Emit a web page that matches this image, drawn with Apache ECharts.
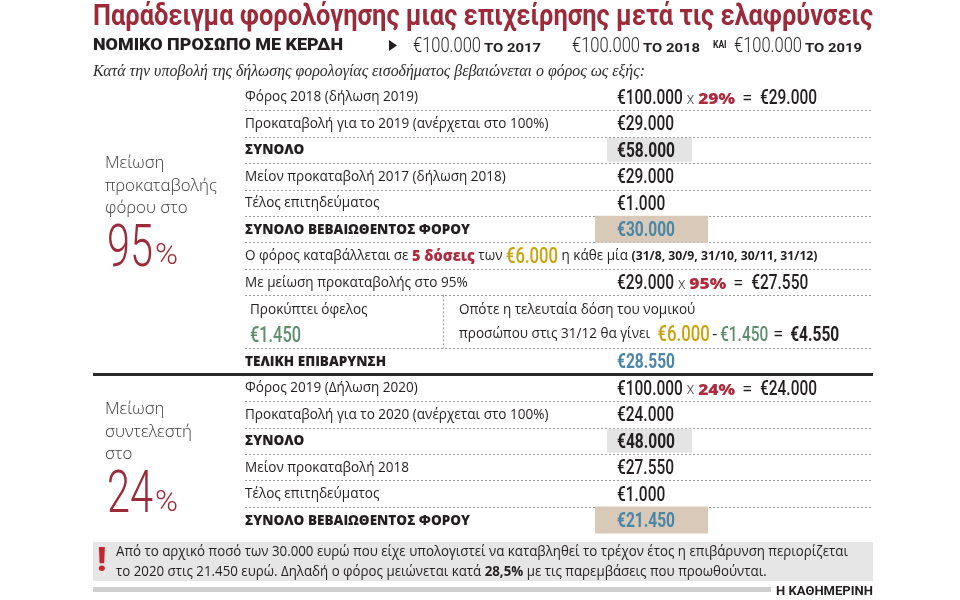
<!DOCTYPE html>
<html>
<head>
<meta charset="utf-8">
<script src="https://cdn.jsdelivr.net/npm/echarts@6/dist/echarts.min.js"></script>
<style>html,body{margin:0;padding:0;background:#fff;}#chart{width:960px;height:600px;}</style>
</head>
<body>
<div id="chart"></div>
<script>
// ================= DATA =================
const titleText = 'Παράδειγμα φορολόγησης μιας επιχείρησης μετά τις ελαφρύνσεις';
const headerLabel = 'ΝΟΜΙΚΟ ΠΡΟΣΩΠΟ ΜΕ ΚΕΡΔΗ';
const headerYears = [2017, 2018, 2019];
const headerProfits = [100000, 100000, 100000];
const introText = 'Κατά την υποβολή της δήλωσης φορολογίας εισοδήματος βεβαιώνεται ο φόρος ως εξής:';

const rowSlots = [0, 1, 2, 3, 4, 5, 6, 7, 8, 10, 11, 12, 13, 14, 15, 16];
const rowLabels = [
  'Φόρος 2018 (δήλωση 2019)',
  'Προκαταβολή για το 2019 (ανέρχεται στο 100%)',
  'ΣΥΝΟΛΟ',
  'Μείον προκαταβολή 2017 (δήλωση 2018)',
  'Τέλος επιτηδεύματος',
  'ΣΥΝΟΛΟ ΒΕΒΑΙΩΘΕΝΤΟΣ ΦΟΡΟΥ',
  'Ο φόρος καταβάλλεται σε',
  'Με μείωση προκαταβολής στο 95%',
  'Προκύπτει όφελος',
  'ΤΕΛΙΚΗ ΕΠΙΒΑΡΥΝΣΗ',
  'Φόρος 2019 (Δήλωση 2020)',
  'Προκαταβολή για το 2020 (ανέρχεται στο 100%)',
  'ΣΥΝΟΛΟ',
  'Μείον προκαταβολή 2018',
  'Τέλος επιτηδεύματος',
  'ΣΥΝΟΛΟ ΒΕΒΑΙΩΘΕΝΤΟΣ ΦΟΡΟΥ'
];
const taxRates = [29, 24];
const section1Amounts = [29000, 29000, 58000, 29000, 1000, 30000];
const section2Amounts = [24000, 24000, 48000, 27550, 1000, 21450];
const installmentCount = 5;
const installmentAmount = 6000;
const installmentDates = ['31/8', '30/9', '31/10', '30/11', '31/12'];
const advanceReductionPct = 95;
const reducedAdvance = 27550;
const benefit = 1450;
const lastInstallment = 4550;
const finalBurden = 28550;
const splitTexts = ['Οπότε η τελευταία δόση του νομικού', 'προσώπου στις 31/12 θα γίνει'];
const separatorSlots = [0.5, 1.5, 2.5, 3.5, 4.5, 5.5, 6.5, 7.5, 9.5, 11.5, 12.5, 13.5, 14.5, 15.5];
const ruleSlots = [10.5];
const sideLabels = [['Μείωση', 'προκαταβολής', 'φόρου στο'], ['Μείωση', 'συντελεστή', 'στο']];
const sidePcts = [advanceReductionPct, taxRates[1]];
const sideSlots = [2.53, 11.84];
const noteTotals = [section1Amounts[5], section2Amounts[5]];
const noteYear = 2020;
const reductionPct = '28,5%';
const sourceText = 'Η ΚΑΘΗΜΕΡΙΝΗ';

// ================= STYLE / HELPERS =================
const INK = '#231f20', RED = '#b02a3e', DARKRED = '#9b2a3a', YEL = '#c9a20c',
      GRN = '#5d8e6e', BLUE = '#4a86a6', GREYBOX = '#e4e4e4', TAN = '#d8c9b9';
const F = {
  lbl:   { family: '"Open Sans", "Noto Sans", sans-serif', k: 0.39 },
  num:   { family: 'Roboto, "Liberation Sans", sans-serif', k: 0.2 },
  serif: { family: '"Liberation Serif", "DejaVu Serif", serif', k: 0.34 }
};
const mctx = document.createElement('canvas').getContext('2d');
function fstr(r) { return (r.italic ? 'italic ' : 'normal ') + (r.w || 'normal') + ' ' + r.s + 'px ' + F[r.f].family; }
function mw(r) { mctx.font = fstr(r); return mctx.measureText(r.t).width; }
function fit(t, f, s, w, target, italic) { return target / mw({ t, f, s, w, italic }); }
function R(t, f, s, o) { return Object.assign({ t: String(t), f, s }, o || {}); }
function eur(n) { return '€' + String(n).replace(/\B(?=(\d{3})+(?!\d))/g, '.'); }
function plain(n) { return String(n).replace(/\B(?=(\d{3})+(?!\d))/g, '.'); }
function runsEls(x, base, runs) {
  let cx = x; const out = [];
  runs.forEach(r => {
    cx += (r.gl || 0);
    const sx = r.sx || 1;
    out.push({
      type: 'text', x: cx, y: base - F[r.f].k * r.s + (r.dy || 0), scaleX: sx, silent: true,
      style: {
        text: r.t, fontSize: r.s, fontFamily: F[r.f].family, fontWeight: r.w || 'normal',
        fontStyle: r.italic ? 'italic' : 'normal', fill: r.c || INK, align: 'left', verticalAlign: 'middle'
      }
    });
    cx += mw(r) * sx;
  });
  return out;
}

const LS = 14.5, LBS = 14, NS = 20;
const LBL_SX = fit(rowLabels[0], 'lbl', LS, 'normal', 173);
const LBLB_SX = fit(rowLabels[5], 'lbl', LBS, '800', 225);
const NUM_SX = fit('€29.000', 'num', NS, '500', 57);
const NUMB_SX = fit('€58.000', 'num', NS, 'bold', 58);
const PCT_SX = fit('29%', 'lbl', 16, '800', 37);
const YEL_SX = fit('€6.000', 'num', 22, '500', 52);

const lbl = (t, o) => R(t, 'lbl', LS, Object.assign({ sx: LBL_SX }, o || {}));
const lblB = (t, o) => R(t, 'lbl', LBS, Object.assign({ w: '800', sx: LBLB_SX }, o || {}));
const num = (v, o) => R(eur(v), 'num', NS, Object.assign({ w: '500', sx: NUM_SX }, o || {}));
const numB = (v, o) => R(eur(v), 'num', NS, Object.assign({ w: 'bold', sx: NUMB_SX }, o || {}));
function calc(a, p, r) {
  return [num(a), R('X', 'num', 12, { w: '300', gl: 4 }), R(p + '%', 'lbl', 16, { w: '800', c: RED, gl: 4, sx: PCT_SX, dy: 2.5 }),
          R('=', 'num', 18, { gl: 7 }), num(r, { gl: 8 })];
}

const S1 = section1Amounts, S2 = section2Amounts;
const datesText = '(' + installmentDates.join(', ') + ')';
const installmentRuns = [
  lbl(rowLabels[6] + ' '),
  R(installmentCount + ' δόσεις', 'lbl', 15, { w: '800', c: RED, sx: LBLB_SX, dy: 0.5 }),
  lbl(' των '),
  R(eur(installmentAmount), 'num', 22, { w: '500', c: YEL, sx: YEL_SX }),
  lbl(' η κάθε μία '),
  R(datesText, 'lbl', 12, { w: 'bold', sx: fit(datesText, 'lbl', 12, 'bold', 186) })
];
const rowSpecs = [
  { lbl: [lbl(rowLabels[0])], val: calc(headerProfits[1], taxRates[0], S1[0]) },
  { lbl: [lbl(rowLabels[1])], val: [num(S1[1])] },
  { lbl: [lblB(rowLabels[2])], val: [numB(S1[2])], box: 'grey' },
  { lbl: [lbl(rowLabels[3])], val: [num(S1[3])] },
  { lbl: [lbl(rowLabels[4])], val: [num(S1[4])] },
  { lbl: [lblB(rowLabels[5])], val: [numB(S1[5], { c: BLUE })], box: 'tan' },
  { lbl: installmentRuns },
  { lbl: [lbl(rowLabels[7])], val: calc(S1[1], advanceReductionPct, reducedAdvance) },
  { split: true },
  { lbl: [lblB(rowLabels[9])], val: [numB(finalBurden, { c: BLUE })] },
  { lbl: [lbl(rowLabels[10])], val: calc(headerProfits[2], taxRates[1], S2[0]) },
  { lbl: [lbl(rowLabels[11])], val: [num(S2[1])] },
  { lbl: [lblB(rowLabels[12])], val: [numB(S2[2])], box: 'grey' },
  { lbl: [lbl(rowLabels[13])], val: [num(S2[3])] },
  { lbl: [lbl(rowLabels[14])], val: [num(S2[4])] },
  { lbl: [lblB(rowLabels[15])], val: [numB(S2[5], { c: BLUE })], box: 'tan' }
];
const BOX = { grey: { x: 607, w: 85, h: 24, fill: GREYBOX }, tan: { x: 595, w: 113, h: 27, fill: TAN } };
const COL = { side: 105, pct: 107, pctSign: 155, label: 245, value: 617, split: 443, splitL: 250, splitR: 459, left: 93, right: 873 };

const SIDE_S = 16;
const SIDE_SX = fit('προκαταβολής', 'lbl', SIDE_S, '300', 112);
const BIG_S = 59;
const BIG_SX = fit('95', 'num', BIG_S, '300', 46);
const PS_SX = fit('%', 'num', 30, '300', 23);

// ================= CHART =================
const chart = echarts.init(document.getElementById('chart'), null, { renderer: 'canvas' });

function rowRender(params, api) {
  const i = api.value(2), slot = api.value(1);
  const y = api.coord([0, slot])[1];
  const X = v => api.coord([v, slot])[0];
  const rowH = api.size([0, 1])[1];
  const base = y + 6;
  const spec = rowSpecs[i];
  let children = [];
  if (spec.box) {
    const b = BOX[spec.box];
    children.push({ type: 'rect', shape: { x: X(b.x), y: y - b.h / 2, width: api.size([b.w, 0])[0], height: b.h }, style: { fill: b.fill } });
  }
  if (spec.split) {
    const b1 = y + 7, b2 = y + 31;
    children = children.concat(runsEls(X(COL.splitL), b1, [lbl(rowLabels[8])]));
    children = children.concat(runsEls(X(COL.splitL), b2 + 1, [R(eur(benefit), 'num', 22, { w: '500', c: GRN, sx: YEL_SX * 0.98 })]));
    children = children.concat(runsEls(X(COL.splitR), b1, [lbl(splitTexts[0])]));
    children = children.concat(runsEls(X(COL.splitR), b2, [
      lbl(splitTexts[1] + ' '),
      R(eur(installmentAmount), 'num', 22, { w: '500', c: YEL, sx: YEL_SX, gl: 4 }),
      R('-', 'num', 16, { gl: 3 }),
      R(eur(benefit), 'num', NS, { w: '500', c: GRN, sx: NUM_SX, gl: 3 }),
      R('=', 'num', 18, { gl: 5 }),
      numB(lastInstallment, { gl: 7 })
    ]));
    const yt = y - rowH / 2, yb = y + rowH * 1.5;
    children.push({ type: 'line', shape: { x1: X(COL.split) + 0.5, y1: yt, x2: X(COL.split) + 0.5, y2: yb },
      style: { stroke: '#9a9a9a', lineWidth: 1, lineDash: [2, 2] } });
  } else {
    children = children.concat(runsEls(X(COL.label), base, spec.lbl));
    if (spec.val) children = children.concat(runsEls(X(COL.value), base, spec.val));
  }
  return { type: 'group', children };
}

function sepRender(params, api) {
  const slot = api.value(1);
  const y = Math.round(api.coord([0, slot])[1]) + 0.5;
  return { type: 'line', shape: { x1: api.coord([COL.label, slot])[0], y1: y, x2: api.coord([COL.right, slot])[0], y2: y },
    style: { stroke: '#9a9a9a', lineWidth: 1, lineDash: [2, 2] } };
}
function ruleRender(params, api) {
  const slot = api.value(1);
  const y = api.coord([0, slot])[1];
  return { type: 'line', shape: { x1: api.coord([COL.left, slot])[0], y1: y, x2: api.coord([COL.right, slot])[0], y2: y },
    style: { stroke: '#2a2a2a', lineWidth: 3 } };
}
function sideRender(params, api) {
  const i = api.value(2), slot = api.value(1);
  const b0 = api.coord([0, slot])[1] + 6;
  const X = v => api.coord([v, slot])[0];
  let children = [];
  sideLabels[i].forEach((t, j) => {
    children = children.concat(runsEls(X(COL.side), b0 + j * 22.5, [R(t, 'lbl', SIDE_S, { w: '300', c: '#3a3a3a', sx: SIDE_SX })]));
  });
  const pb = b0 + 93;
  children = children.concat(runsEls(X(COL.pct), pb, [R(String(sidePcts[i]), 'num', BIG_S, { w: '300', c: DARKRED, sx: BIG_SX })]));
  children = children.concat(runsEls(X(COL.pctSign), pb, [R('%', 'num', 30, { w: '300', c: DARKRED, sx: PS_SX })]));
  return { type: 'group', children };
}

// ----- header / footer graphics -----
const gEls = [];
runsEls(93, 23, [R(titleText, 'num', 30, { w: 'bold', c: DARKRED, sx: fit(titleText, 'num', 30, 'bold', 780) })]).forEach(e => gEls.push(e));
runsEls(93, 49, [R(headerLabel, 'num', 16, { w: '900', sx: fit(headerLabel, 'num', 16, '900', 250) })]).forEach(e => gEls.push(e));
gEls.push({ type: 'polygon', shape: { points: [[389, 40], [397, 45.5], [389, 51]] }, style: { fill: INK } });
const headerX = [413, 572, 734];
const HDR_SX = fit('€100.000', 'num', 20, '300', 68);
headerProfits.forEach((p, i) => {
  runsEls(headerX[i], 51, [
    R(eur(p), 'num', 20, { w: '300', sx: HDR_SX }),
    R('ΤΟ ' + headerYears[i], 'num', 12.5, { w: 'bold', gl: 3, sx: fit('ΤΟ ' + headerYears[i], 'num', 12.5, 'bold', 57) })
  ]).forEach(e => gEls.push(e));
});
runsEls(713, 47, [R('ΚΑΙ', 'num', 10, { w: 'bold', sx: 0.85 })]).forEach(e => gEls.push(e));
runsEls(93, 77, [R(introText, 'serif', 16.5, { italic: true, c: '#2b2b2b', sx: fit(introText, 'serif', 16.5, 'normal', 552, true) })]).forEach(e => gEls.push(e));

gEls.push({ type: 'rect', shape: { x: 93, y: 542, width: 780, height: 39 }, style: { fill: '#e6e6e6' } });
runsEls(97, 569, [R('!', 'num', 34, { w: '900', c: '#c4262e' })]).forEach(e => gEls.push(e));
const noteLine1 = 'Από το αρχικό ποσό των ' + plain(noteTotals[0]) + ' ευρώ που είχε υπολογιστεί να καταβληθεί το τρέχον έτος η επιβάρυνση περιορίζεται';
const NOTE_S = 14;
const NOTE_SX = fit(noteLine1, 'lbl', NOTE_S, 'normal', 732);
runsEls(116, 557, [R(noteLine1, 'lbl', NOTE_S, { sx: NOTE_SX })]).forEach(e => gEls.push(e));
runsEls(116, 577, [
  R('το ' + noteYear + ' στις ' + plain(noteTotals[1]) + ' ευρώ. Δηλαδή ο φόρος μειώνεται κατά ', 'lbl', NOTE_S, { sx: NOTE_SX }),
  R(reductionPct, 'lbl', NOTE_S, { w: 'bold', sx: NOTE_SX }),
  R(' με τις παρεμβάσεις που προωθούνται.', 'lbl', NOTE_S, { sx: NOTE_SX })
]).forEach(e => gEls.push(e));
gEls.push({ type: 'rect', shape: { x: 93, y: 587, width: 678, height: 5 }, style: { fill: '#cfcfcf' } });
runsEls(776, 594, [R(sourceText, 'num', 12, { w: 'bold', sx: fit(sourceText, 'num', 12, 'bold', 97) })]).forEach(e => gEls.push(e));

const ROW_H = 26.44, FIRST_Y = 97;
chart.setOption({
  animation: false,
  backgroundColor: '#ffffff',
  grid: { left: 0, right: 0, top: FIRST_Y - ROW_H / 2, bottom: 600 - (FIRST_Y + 16 * ROW_H + ROW_H / 2) },
  xAxis: { type: 'value', min: 0, max: 960, show: false },
  yAxis: { type: 'value', min: -0.5, max: 16.5, inverse: true, show: false },
  graphic: { elements: gEls },
  series: [
    { type: 'custom', name: 'separators', renderItem: sepRender, data: separatorSlots.map(s => [0, s]), silent: true, z: 1 },
    { type: 'custom', name: 'rules', renderItem: ruleRender, data: ruleSlots.map(s => [0, s]), silent: true, z: 1 },
    { type: 'custom', name: 'rows', renderItem: rowRender, data: rowSlots.map((s, i) => [0, s, i]), silent: true, z: 2 },
    { type: 'custom', name: 'side', renderItem: sideRender, data: sideSlots.map((s, i) => [0, s, i]), silent: true, z: 2 }
  ]
});
</script>
</body>
</html>
